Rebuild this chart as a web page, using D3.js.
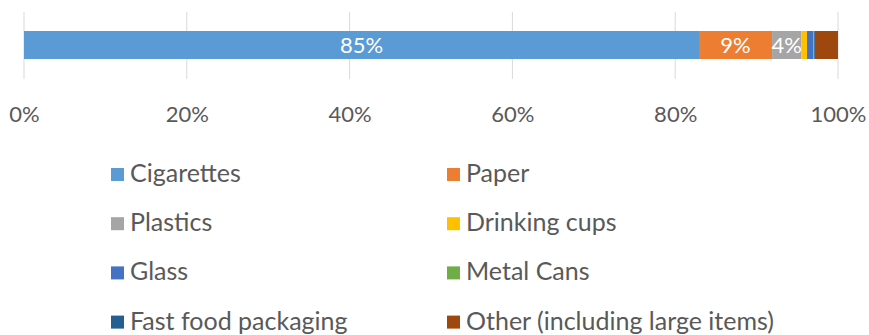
<!DOCTYPE html>
<html>
<head>
<meta charset="utf-8">
<script src="https://cdn.jsdelivr.net/npm/d3@7"></script>
<style>
  body { margin: 0; background: #fff; }
  text { font-family: Lato, "Open Sans", sans-serif; }
</style>
</head>
<body>
<div id="chart"></div>
<script>
  // litter composition, 100% stacked single bar
  const categories = ["Cigarettes", "Paper", "Plastics", "Drinking cups", "Glass", "Metal Cans", "Fast food packaging", "Other (including large items)"];
  const values = [85, 9.2, 3.7, 0.7, 0.8, 0.1, 0.1, 2.9];
  const colors = ["#5B9BD5", "#ED7D31", "#A5A5A5", "#FFC000", "#4472C4", "#70AD47", "#255E91", "#9E480E"];
  const ticks = [0, 0.2, 0.4, 0.6, 0.8, 1];

  const width = 869, height = 335;
  const x0 = 24, x1 = 838;

  const svg = d3.select("#chart").append("svg")
    .attr("width", width).attr("height", height);

  const total = d3.sum(values);
  let acc = 0;
  const segs = values.map((v, i) => {
    const s = { name: categories[i], value: v, start: acc / total, end: (acc + v) / total, color: colors[i] };
    acc += v;
    return s;
  });

  const xScale = d3.scaleLinear().domain([0, 1]).range([x0, x1]);

  // GRIDLINES
  svg.append("g").selectAll("line").data(ticks).join("line")
    .attr("x1", d => xScale(d)).attr("x2", d => xScale(d))
    .attr("y1", 12).attr("y2", 79)
    .style("stroke", "#d9d9d9").style("stroke-width", 1);

  // BAR
  svg.append("g").selectAll("rect").data(segs).join("rect")
    .attr("x", d => xScale(d.start))
    .attr("width", d => xScale(d.end) - xScale(d.start))
    .attr("y", 31).attr("height", 28)
    .style("fill", d => d.color);

  // DATA LABELS (only where there is room)
  svg.append("g").selectAll("text").data(segs.filter(d => d.value >= 3)).join("text")
    .attr("x", d => (xScale(d.start) + xScale(d.end)) / 2)
    .attr("y", 53)
    .attr("text-anchor", "middle")
    .style("font-size", "22px").style("fill", "#fff")
    .text(d => Math.round(d.value) + "%");

  // AXIS
  const axis = svg.append("g")
    .attr("transform", "translate(0,122)")
    .call(d3.axisBottom(xScale).tickValues(ticks).tickFormat(d3.format(".0%")).tickSize(0));
  axis.select(".domain").remove();
  axis.selectAll("text")
    .attr("y", 0).attr("dy", 0)
    .style("font-size", "22px").style("fill", "#595959")
    .style("font-family", "Lato, sans-serif");

  // LEGEND
  const legend = svg.append("g").selectAll("g").data(segs).join("g")
    .attr("transform", (d, i) => `translate(${i % 2 === 0 ? 111 : 447},${182 + Math.floor(i / 2) * 49.2})`);
  legend.append("rect")
    .attr("x", 0).attr("y", -14).attr("width", 13).attr("height", 13)
    .style("fill", d => d.color);
  legend.append("text")
    .attr("x", 19).attr("y", 0)
    .style("font-size", "25px").style("fill", "#595959")
    .text(d => d.name);
</script>
</body>
</html>
